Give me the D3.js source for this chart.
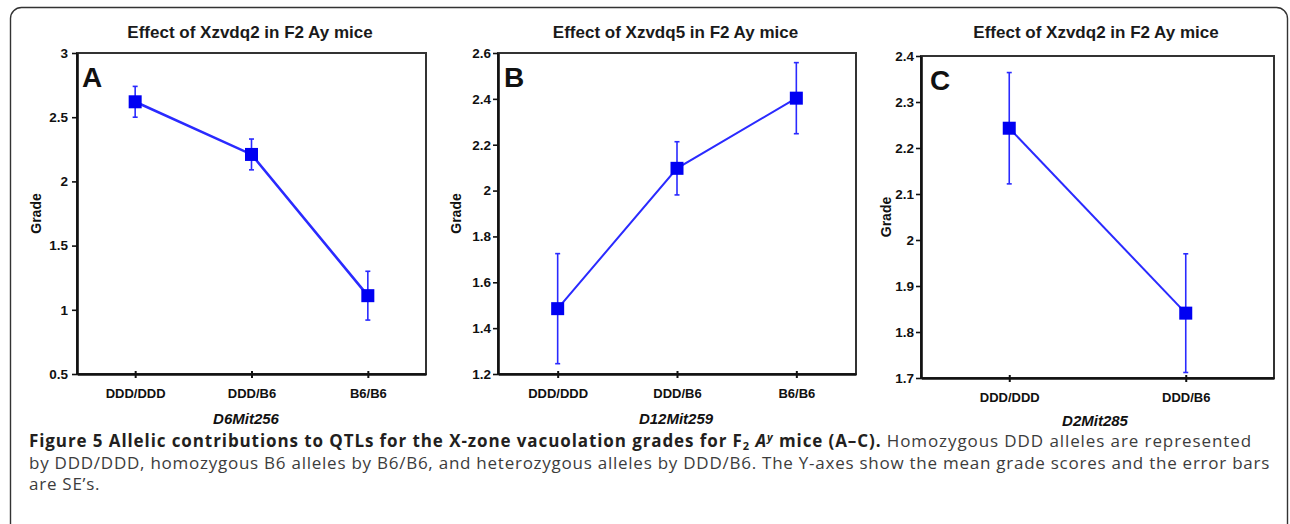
<!DOCTYPE html>
<html><head><meta charset="utf-8">
<script src="https://cdn.jsdelivr.net/npm/d3@7"></script>
<style>body{margin:0;background:#fff} svg{display:block}</style>
</head><body>
<svg id="c" width="1290" height="524"></svg>
<script>
// ---------- data ----------
const catsA = ["DDD/DDD", "DDD/B6", "B6/B6"];
const meanA = [2.62, 2.21, 1.11];
const seA = [0.12, 0.12, 0.19];
const ticksA = [0.5, 1, 1.5, 2, 2.5, 3];
const tickLabelsA = ["0.5", "1", "1.5", "2", "2.5", "3"];

const catsB = ["DDD/DDD", "DDD/B6", "B6/B6"];
const meanB = [1.485, 2.097, 2.403];
const seB = [0.24, 0.116, 0.155];
const ticksB = [1.2, 1.4, 1.6, 1.8, 2, 2.2, 2.4, 2.6];
const tickLabelsB = ["1.2", "1.4", "1.6", "1.8", "2", "2.2", "2.4", "2.6"];

const catsC = ["DDD/DDD", "DDD/B6"];
const meanC = [2.243, 1.841];
const seC = [0.121, 0.129];
const ticksC = [1.7, 1.8, 1.9, 2, 2.1, 2.2, 2.3, 2.4];
const tickLabelsC = ["1.7", "1.8", "1.9", "2", "2.1", "2.2", "2.3", "2.4"];

const titles = ["Effect of Xzvdq2 in F2 Ay mice", "Effect of Xzvdq5 in F2 Ay mice", "Effect of Xzvdq2 in F2 Ay mice"];
const xTitles = ["D6Mit256", "D12Mit259", "D2Mit285"];
const letters = ["A", "B", "C"];
const yTitle = "Grade";

// ---------- layout ----------
const svg = d3.select("#c");
const BLUE_LINE = "#2a2aff", BLUE_MARK = "#0000f2", INK = "#111";
const SANS = "Liberation Sans, Arial, sans-serif";

svg.append("rect").attr("x", 10.5).attr("y", 7.5).attr("width", 1277).attr("height", 540)
  .attr("rx", 11).attr("fill", "none").attr("stroke", "#333").attr("stroke-width", 1.4);

const panels = [
  {cats: catsA, mean: meanA, se: seA, ticks: ticksA, labels: tickLabelsA, box: [77, 53, 426, 374], lw: 2.6, pad: 4, gx: 36, letterX: 83, xt: [246, 418.5]},
  {cats: catsB, mean: meanB, se: seB, ticks: ticksB, labels: tickLabelsB, box: [498, 53, 856, 374], lw: 2, pad: 2, gx: 456, letterX: 505, xt: [676, 418.5]},
  {cats: catsC, mean: meanC, se: seC, ticks: ticksC, labels: tickLabelsC, box: [921, 56, 1274, 378], lw: 2, pad: 2, gx: 886, letterX: 931, xt: [1095, 421]}
];

panels.forEach((p, i) => {
  const [l, t, r, b] = p.box;
  const x = d3.scalePoint().domain(p.cats).range([l, r]).padding(0.5);
  const y = d3.scaleLinear().domain(d3.extent(p.ticks)).range([b, t]);
  const g = svg.append("g");

  g.append("text").attr("x", (l + r) / 2 - 1.5).attr("y", 38).attr("text-anchor", "middle")
    .attr("font-family", SANS).attr("font-weight", "bold")
    .attr("font-size", 17).attr("fill", "#1a1a1a").text(titles[i]);

  g.append("rect").attr("x", l).attr("y", t).attr("width", r - l).attr("height", b - t)
    .attr("fill", "#fff").attr("stroke", "#333").attr("stroke-width", 2);

  const ya = g.append("g").attr("transform", `translate(${l},0)`)
    .call(d3.axisLeft(y).tickValues(p.ticks).tickFormat((d, k) => p.labels[k]).tickSize(5).tickSizeOuter(0).tickPadding(p.pad));
  ya.select(".domain").attr("stroke", INK).attr("stroke-width", 2.6);
  ya.selectAll(".tick line").attr("stroke", INK).attr("stroke-width", 1.6);
  ya.selectAll(".tick text").attr("font-family", SANS)
    .attr("font-weight", "bold").attr("font-size", 13.5).attr("fill", INK);

  const xa = g.append("g").attr("transform", `translate(0,${b})`)
    .call(d3.axisBottom(x).tickSize(4).tickSizeOuter(0).tickPadding(11));
  xa.select(".domain").attr("stroke", INK).attr("stroke-width", 2.6);
  xa.selectAll(".tick line").attr("y1", -3).attr("stroke", INK).attr("stroke-width", 2);
  xa.selectAll(".tick text").attr("font-family", SANS)
    .attr("font-weight", "bold").attr("font-size", 13).attr("fill", INK);

  g.append("text").attr("transform", `translate(${p.gx},${(t + b) / 2}) rotate(-90)`)
    .attr("text-anchor", "middle").attr("dy", "0.35em")
    .attr("font-family", SANS).attr("font-weight", "bold")
    .attr("font-size", 14).attr("fill", INK).text(yTitle);

  g.append("text").attr("x", p.xt[0]).attr("y", p.xt[1]).attr("dy", "0.35em").attr("text-anchor", "middle")
    .attr("font-family", SANS).attr("font-weight", "bold")
    .attr("font-style", "italic").attr("font-size", 15).attr("fill", INK).text(xTitles[i]);

  g.append("text").attr("x", p.letterX - 1).attr("y", t + 34).attr("font-family", SANS)
    .attr("font-weight", "bold").attr("font-size", 28).attr("fill", INK).text(letters[i]);

  const pts = p.cats.map((c, k) => ({c, m: p.mean[k], s: p.se[k]}));

  const eb = g.append("g").attr("stroke", BLUE_LINE).attr("stroke-width", 1.6).attr("fill", "none");
  pts.forEach(d => {
    const cx = x(d.c), y1 = y(d.m + d.s), y2 = y(d.m - d.s);
    eb.append("line").attr("x1", cx).attr("x2", cx).attr("y1", y1).attr("y2", y2);
    eb.append("line").attr("x1", cx - 2.5).attr("x2", cx + 2.5).attr("y1", y1).attr("y2", y1);
    eb.append("line").attr("x1", cx - 2.5).attr("x2", cx + 2.5).attr("y1", y2).attr("y2", y2);
  });

  g.append("path").datum(pts)
    .attr("d", d3.line().x(d => x(d.c)).y(d => y(d.m)))
    .attr("fill", "none").attr("stroke", BLUE_LINE).attr("stroke-width", p.lw);

  g.selectAll("rect.m").data(pts).join("rect").attr("class", "m")
    .attr("x", d => x(d.c) - 6.5).attr("y", d => y(d.m) - 6.5)
    .attr("width", 13).attr("height", 13).attr("fill", BLUE_MARK);
});

// ---------- caption ----------
const CAP_FONT = "Open Sans, Noto Sans, sans-serif";
const CAP_SIZE = 17;
const capX = 29;
function fitLine(sel, target) {
  sel.attr("letter-spacing", 0);
  const n = sel.text().length;
  const nat = sel.node().getComputedTextLength();
  sel.attr("letter-spacing", ((target - nat) / n).toFixed(3));
}

const l1 = svg.append("text").attr("x", capX).attr("y", 446.5)
  .attr("font-family", CAP_FONT).attr("font-size", CAP_SIZE).attr("fill", "#231f20");
l1.append("tspan").attr("font-weight", "bold").text("Figure 5 Allelic contributions to QTLs for the X-zone vacuolation grades for F");
l1.append("tspan").attr("font-weight", "bold").attr("font-size", 11).attr("dy", 3).text("2");
l1.append("tspan").attr("font-weight", "bold").attr("dy", -3).text(" ");
l1.append("tspan").attr("font-weight", "bold").attr("font-style", "italic").text("A");
l1.append("tspan").attr("font-weight", "bold").attr("font-style", "italic").attr("font-size", 11).attr("dy", -6).text("y");
l1.append("tspan").attr("font-weight", "bold").attr("dy", 6).text(" mice (A\u2013C).");
l1.append("tspan").attr("fill", "#3c3c3c").text(" Homozygous DDD alleles are represented");
fitLine(l1, 1252 - capX);

const l2 = svg.append("text").attr("x", capX).attr("y", 468.5)
  .attr("font-family", CAP_FONT).attr("font-size", CAP_SIZE).attr("fill", "#3c3c3c")
  .text("by DDD/DDD, homozygous B6 alleles by B6/B6, and heterozygous alleles by DDD/B6. The Y-axes show the mean grade scores and the error bars");
fitLine(l2, 1270 - capX);

const l3 = svg.append("text").attr("x", capX).attr("y", 490)
  .attr("font-family", CAP_FONT).attr("font-size", CAP_SIZE).attr("fill", "#3c3c3c")
  .text("are SE\u2019s.");
l3.attr("letter-spacing", l2.attr("letter-spacing"));
</script>
</body></html>
